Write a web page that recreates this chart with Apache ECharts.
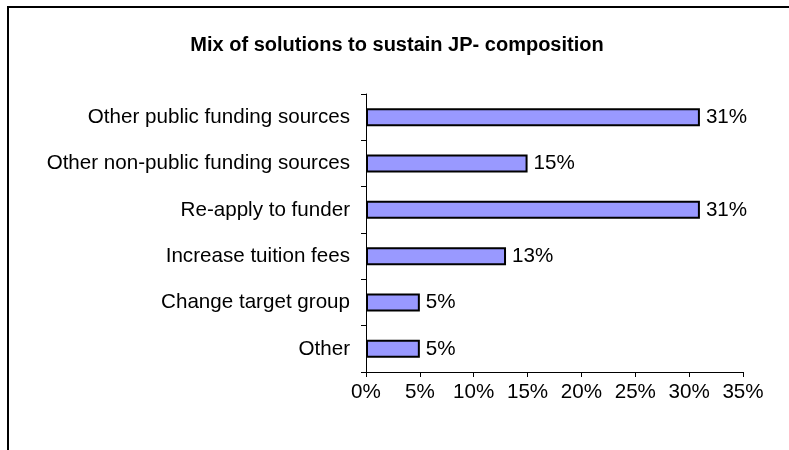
<!DOCTYPE html>
<html>
<head>
<meta charset="utf-8">
<script src="https://cdn.jsdelivr.net/npm/echarts@6/dist/echarts.min.js"></script>
<style>
  html, body { margin: 0; padding: 0; background: #fff; }
  #chart { width: 789px; height: 450px; }
</style>
</head>
<body>
<div id="chart"></div>
<script>
// Solutions, listed bottom-to-top as the category axis draws them
const categories = [
  'Other',
  'Change target group',
  'Increase tuition fees',
  'Re-apply to funder',
  'Other non-public funding sources',
  'Other public funding sources'
];
const shares = [5, 5, 13, 31, 15, 31];
const tickValues = [0, 5, 10, 15, 20, 25, 30, 35];

const font = 'Liberation Sans, Arial, sans-serif';
const textSize = 20.6;

const chart = echarts.init(document.getElementById('chart'), null, { renderer: 'canvas' });
chart.setOption({
  animation: false,
  backgroundColor: '#ffffff',
  title: {
    text: 'Mix of solutions to sustain JP- composition',
    left: 397,
    textAlign: 'center',
    top: 35,
    padding: 0,
    textStyle: { fontFamily: font, fontSize: 20, fontWeight: 'bold', color: '#000' }
  },
  graphic: [{
    type: 'rect',
    shape: { x: 8, y: 7, width: 800, height: 500 },
    style: { fill: 'none', stroke: '#000', lineWidth: 2 },
    silent: true
  }],
  grid: { left: 366, right: 46, top: 94, bottom: 78 },
  xAxis: {
    type: 'value',
    min: tickValues[0],
    max: tickValues[tickValues.length - 1],
    interval: 5,
    splitLine: { show: false },
    axisLine: { show: true, lineStyle: { color: '#000', width: 1 } },
    axisTick: { show: true, length: 5, lineStyle: { color: '#000' } },
    axisLabel: {
      fontFamily: font, fontSize: textSize, color: '#000', margin: 10,
      formatter: v => v + '%'
    }
  },
  yAxis: {
    type: 'category',
    data: categories,
    axisLine: { show: true, lineStyle: { color: '#000', width: 1 } },
    axisTick: { show: true, length: 5, alignWithLabel: false, lineStyle: { color: '#000' } },
    axisLabel: { fontFamily: font, fontSize: textSize, color: '#000', margin: 16 }
  },
  series: [{
    type: 'bar',
    data: shares,
    barWidth: 18,
    itemStyle: { color: '#9999FF', borderColor: '#000', borderWidth: 2 },
    label: {
      show: true,
      position: 'right',
      distance: 6,
      fontFamily: font, fontSize: textSize, color: '#000',
      formatter: p => p.value + '%'
    }
  }]
});
</script>
</body>
</html>
